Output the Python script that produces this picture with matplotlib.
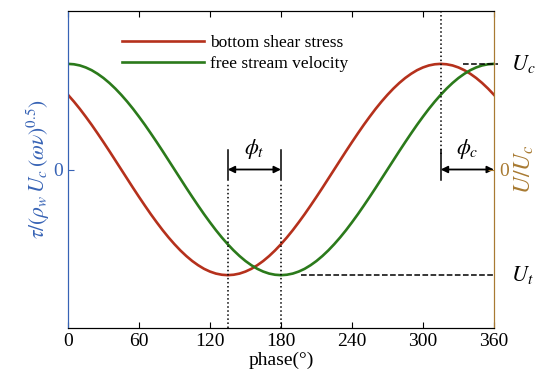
import matplotlib.pyplot as plt
from matplotlib.lines import Line2D

plt.rcParams['font.family'] = 'Liberation Serif'
plt.rcParams['mathtext.fontset'] = 'stix'

# phase in degrees (5 deg steps) (normalised by U_c)
phase = list(range(0, 361, 5))
velocity = [1.000, 0.996, 0.985, 0.966, 0.940, 0.906, 0.866, 0.819, 0.766, 0.707, 0.643, 0.574,
            0.500, 0.423, 0.342, 0.259, 0.174, 0.087, 0.000,
            -0.087, -0.174, -0.259, -0.342, -0.423, -0.500, -0.574, -0.643, -0.707, -0.766,
            -0.819, -0.866, -0.906, -0.940, -0.966, -0.985, -0.996, -1.000,
            -0.996, -0.985, -0.966, -0.940, -0.906, -0.866, -0.819, -0.766, -0.707, -0.643,
            -0.574, -0.500, -0.423, -0.342, -0.259, -0.174, -0.087, 0.000,
            0.087, 0.174, 0.259, 0.342, 0.423, 0.500, 0.574, 0.643, 0.707, 0.766,
            0.819, 0.866, 0.906, 0.940, 0.966, 0.985, 0.996, 1.000]
shear = [0.707, 0.643, 0.574, 0.500, 0.423, 0.342, 0.259, 0.174, 0.087, 0.000,
         -0.087, -0.174, -0.259, -0.342, -0.423, -0.500, -0.574, -0.643, -0.707, -0.766,
         -0.819, -0.866, -0.906, -0.940, -0.966, -0.985, -0.996, -1.000,
         -0.996, -0.985, -0.966, -0.940, -0.906, -0.866, -0.819, -0.766, -0.707, -0.643,
         -0.574, -0.500, -0.423, -0.342, -0.259, -0.174, -0.087, 0.000,
         0.087, 0.174, 0.259, 0.342, 0.423, 0.500, 0.574, 0.643, 0.707, 0.766,
         0.819, 0.866, 0.906, 0.940, 0.966, 0.985, 0.996, 1.000,
         0.996, 0.985, 0.966, 0.940, 0.906, 0.866, 0.819, 0.766, 0.707]
xticks = [0, 60, 120, 180, 240, 300, 360]
phi_t = (135, 180)
phi_c = (315, 360)
Uc, Ut = 1.0, -1.0

red = '#b5311c'
green = '#2b7a1b'
blue = '#3763b5'
brown = '#a87a32'

fig = plt.figure(figsize=(5.5, 3.87), dpi=100)
ax = fig.add_axes([0.1236, 0.1525, 0.7745, 0.819])

ax.plot(phase, shear, color=red, lw=1.9, solid_joinstyle='round')
ax.plot(phase, velocity, color=green, lw=1.9, solid_joinstyle='round')

ax.set_xlim(0, 360)
ax.set_ylim(-1.5, 1.5)
ax.set_xticks(xticks)
ax.set_yticks([0])
ax.tick_params(axis='x', direction='in', top=True, labelsize=14, length=4)
ax.tick_params(axis='y', direction='in', labelsize=14, length=4, colors=blue)
ax.set_xlabel('phase(°)', fontsize=14, labelpad=1)
ax.set_ylabel(r'$\tau/(\rho_w\,U_c\,(\omega\nu)^{0.5})$', fontsize=15.5, color=blue, labelpad=1)

ax.spines['left'].set_color(blue)
ax.spines['right'].set_color(brown)

ax2 = ax.twinx()
ax2.set_ylim(-1.5, 1.5)
ax2.set_yticks([0])
ax2.tick_params(axis='y', direction='in', labelsize=14, length=4, colors=brown)
ax2.set_ylabel(r'$U/U_c$', fontsize=17, color=brown, rotation=90, labelpad=3)
ax2.spines['right'].set_color(brown)
ax2.spines['left'].set_color(blue)

# phase lag annotations
k = dict(color='black', lw=1.1)
ax.plot([phi_t[0], phi_t[0]], [-1.5, -0.13], ls=':', **k)
ax.plot([phi_t[1], phi_t[1]], [-1.5, -0.13], ls=':', **k)
ax.plot([phi_c[0], phi_c[0]], [1.5, 0.15], ls=':', **k)
for x0 in (phi_t[0], phi_t[1], phi_c[0]):
    ax.plot([x0, x0], [-0.1, 0.18], ls='-', **k)
ax.annotate('', xy=(phi_t[0], 0), xytext=(phi_t[1], 0),
            arrowprops=dict(arrowstyle='<|-|>', color='black', lw=1.3, mutation_scale=10, shrinkA=0, shrinkB=0))
ax.annotate('', xy=(phi_c[0], 0), xytext=(phi_c[1], 0),
            arrowprops=dict(arrowstyle='<|-|>', color='black', lw=1.3, mutation_scale=10, shrinkA=0, shrinkB=0))
ax.text(sum(phi_t) / 2, 0.08, r'$\phi_t$', fontsize=16, ha='center', va='bottom')
ax.text(sum(phi_c) / 2, 0.08, r'$\phi_c$', fontsize=16, ha='center', va='bottom')

# crest / trough markers
ax.plot([334, 363], [Uc, Uc], ls='--', color='black', lw=1.1, clip_on=False)
ax.plot([197, 360], [Ut, Ut], ls='--', color='black', lw=1.1, clip_on=False)
ax.text(1.04, 0.833, r'$U_c$', transform=ax.transAxes, fontsize=16, va='center', ha='left')
ax.text(1.04, 0.167, r'$U_t$', transform=ax.transAxes, fontsize=16, va='center', ha='left')

handles = [Line2D([], [], color=red, lw=1.9), Line2D([], [], color=green, lw=1.9)]
ax.legend(handles, ['bottom shear stress', 'free stream velocity'], loc='upper left',
          bbox_to_anchor=(0.09, 0.975), frameon=False, fontsize=12.5,
          handlelength=4.7, handletextpad=0.4, labelspacing=0.3)

fig.savefig('out.png', dpi=100)
